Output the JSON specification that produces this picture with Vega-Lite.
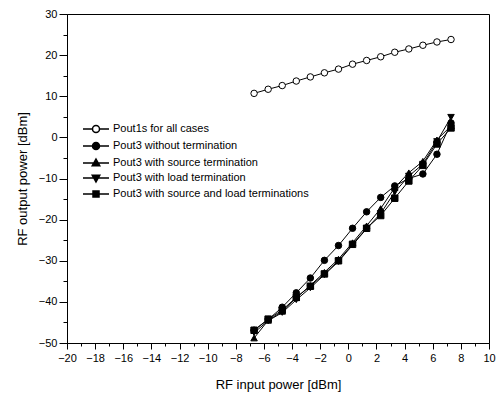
{
  "$schema": "https://vega.github.io/schema/vega-lite/v6.json",
  "width": 422,
  "height": 329,
  "autosize": "none",
  "padding": {"left": 67, "top": 14, "right": 12, "bottom": 57},
  "background": "white",
  "config": {
    "view": {"stroke": "black", "strokeWidth": 1},
    "font": "Liberation Sans",
    "axis": {"domainColor": "black", "tickColor": "black", "labelColor": "black", "titleColor": "black", "grid": false, "labelFont": "Liberation Sans", "titleFont": "Liberation Sans", "labelFontSize": 11, "titleFontSize": 13, "titleFontWeight": "normal"}
  },
  "data": {
    "values": [
      {"x": -6.7, "Pout1s for all cases": 10.7, "Pout3 without termination": -46.9, "Pout3 with source termination": -48.8, "Pout3 with load termination": -47.5, "Pout3 with source and load terminations": -46.9},
      {"x": -5.7, "Pout1s for all cases": 11.7, "Pout3 without termination": -44.3, "Pout3 with source termination": -44.5, "Pout3 with load termination": -44.6, "Pout3 with source and load terminations": -44.2},
      {"x": -4.7, "Pout1s for all cases": 12.6, "Pout3 without termination": -41.3, "Pout3 with source termination": -42.3, "Pout3 with load termination": -42.6, "Pout3 with source and load terminations": -42.0},
      {"x": -3.7, "Pout1s for all cases": 13.7, "Pout3 without termination": -37.8, "Pout3 with source termination": -39.0, "Pout3 with load termination": -39.5, "Pout3 with source and load terminations": -38.9},
      {"x": -2.7, "Pout1s for all cases": 14.7, "Pout3 without termination": -34.2, "Pout3 with source termination": -36.0, "Pout3 with load termination": -36.6, "Pout3 with source and load terminations": -36.2},
      {"x": -1.7, "Pout1s for all cases": 15.7, "Pout3 without termination": -29.9, "Pout3 with source termination": -32.8, "Pout3 with load termination": -33.4, "Pout3 with source and load terminations": -33.2},
      {"x": -0.7, "Pout1s for all cases": 16.6, "Pout3 without termination": -26.3, "Pout3 with source termination": -29.6, "Pout3 with load termination": -30.2, "Pout3 with source and load terminations": -30.0},
      {"x": 0.3, "Pout1s for all cases": 17.8, "Pout3 without termination": -22.1, "Pout3 with source termination": -25.6, "Pout3 with load termination": -26.2, "Pout3 with source and load terminations": -26.0},
      {"x": 1.3, "Pout1s for all cases": 18.7, "Pout3 without termination": -18.1, "Pout3 with source termination": -21.5, "Pout3 with load termination": -22.2, "Pout3 with source and load terminations": -22.1},
      {"x": 2.3, "Pout1s for all cases": 19.6, "Pout3 without termination": -14.6, "Pout3 with source termination": -17.3, "Pout3 with load termination": -18.5, "Pout3 with source and load terminations": -19.0},
      {"x": 3.3, "Pout1s for all cases": 20.7, "Pout3 without termination": -11.8, "Pout3 with source termination": -12.2, "Pout3 with load termination": -13.3, "Pout3 with source and load terminations": -14.8},
      {"x": 4.3, "Pout1s for all cases": 21.5, "Pout3 without termination": -10.0, "Pout3 with source termination": -8.6, "Pout3 with load termination": -9.4, "Pout3 with source and load terminations": -10.6},
      {"x": 5.3, "Pout1s for all cases": 22.4, "Pout3 without termination": -8.9, "Pout3 with source termination": -5.8, "Pout3 with load termination": -6.5, "Pout3 with source and load terminations": -6.8},
      {"x": 6.3, "Pout1s for all cases": 23.2, "Pout3 without termination": -4.1, "Pout3 with source termination": -0.6, "Pout3 with load termination": -1.0, "Pout3 with source and load terminations": -1.6},
      {"x": 7.3, "Pout1s for all cases": 23.8, "Pout3 without termination": 3.5, "Pout3 with source termination": 2.8, "Pout3 with load termination": 4.9, "Pout3 with source and load terminations": 2.3}
    ]
  },
  "transform": [
    {"fold": ["Pout1s for all cases", "Pout3 without termination", "Pout3 with source termination", "Pout3 with load termination", "Pout3 with source and load terminations"], "as": ["series", "y"]}
  ],
  "encoding": {
    "x": {
      "field": "x", "type": "quantitative",
      "scale": {"domain": [-20, 10], "nice": false, "zero": false},
      "axis": {
        "title": "RF input power [dBm]",
        "values": [-20,-19,-18,-17,-16,-15,-14,-13,-12,-11,-10,-9,-8,-7,-6,-5,-4,-3,-2,-1,0,1,2,3,4,5,6,7,8,9,10],
        "labelExpr": "datum.value % 2 === 0 ? datum.label : ''",
        "tickSize": {"condition": {"test": "datum.value % 2 === 0", "value": 6}, "value": 3},
        "labelPadding": 3,
        "titlePadding": 15,
        "labelFlush": false
      }
    },
    "y": {
      "field": "y", "type": "quantitative",
      "scale": {"domain": [-50, 30], "nice": false, "zero": false},
      "axis": {
        "title": "RF output power [dBm]",
        "values": [-50,-45,-40,-35,-30,-25,-20,-15,-10,-5,0,5,10,15,20,25,30],
        "labelExpr": "datum.value % 10 === 0 ? datum.label : ''",
        "tickSize": {"condition": {"test": "datum.value % 10 === 0", "value": 8}, "value": 4},
        "labelPadding": 2,
        "titlePadding": 9,
        "labelFlush": false
      }
    }
  },
  "layer": [
    {
      "mark": {"type": "line", "color": "black", "strokeWidth": 1},
      "encoding": {"detail": {"field": "series"}}
    },
    {
      "mark": {"type": "point", "filled": true, "stroke": "black", "strokeWidth": 1, "opacity": 1, "size": 42},
      "encoding": {
        "shape": {
          "field": "series", "type": "nominal",
          "scale": {
            "domain": ["Pout1s for all cases", "Pout3 without termination", "Pout3 with source termination", "Pout3 with load termination", "Pout3 with source and load terminations"],
            "range": ["circle", "circle", "triangle-up", "triangle-down", "square"]
          },
          "legend": null
        },
        "fill": {
          "field": "series", "type": "nominal",
          "scale": {
            "domain": ["Pout1s for all cases", "Pout3 without termination", "Pout3 with source termination", "Pout3 with load termination", "Pout3 with source and load terminations"],
            "range": ["white", "black", "black", "black", "black"]
          },
          "legend": null
        }
      }
    },
    {
      "transform": [{"filter": "datum.x > 1000"}],
      "mark": {"type": "point", "filled": true, "stroke": "black", "strokeWidth": 1, "opacity": 1, "size": 100},
      "encoding": {
        "shape": {
          "field": "series", "type": "nominal",
          "scale": {
            "domain": ["Pout1s for all cases", "Pout3 without termination", "Pout3 with source termination", "Pout3 with load termination", "Pout3 with source and load terminations"],
            "range": [
              "M-2.6,0H-0.7M0.7,0H2.6M0.7,0A0.7,0.7,0,1,1,-0.7,0A0.7,0.7,0,1,1,0.7,0",
              "M-2.6,0H-0.7M0.7,0H2.6M0.7,0A0.7,0.7,0,1,1,-0.7,0A0.7,0.7,0,1,1,0.7,0",
              "M-2.6,0H2.6M0,-0.8L0.75,0.55L-0.75,0.55Z",
              "M-2.6,0H2.6M0,0.8L0.75,-0.55L-0.75,-0.55Z",
              "M-2.6,0H2.6M-0.6,-0.6H0.6V0.6H-0.6Z"
            ]
          },
          "legend": {
            "orient": "none", "legendX": 23, "legendY": 109,
            "title": null, "padding": 0,
            "symbolSize": 100,
            "labelFont": "Liberation Sans", "labelFontSize": 11, "labelColor": "black", "labelLimit": 400,
            "labelOffset": 11, "rowPadding": 3,
            "encode": {
              "symbols": {
                "size": {"value": 100},
                "stroke": {"value": "black"},
                "strokeWidth": {"value": 1},
                "opacity": {"value": 1}
              }
            }
          }
        },
        "fill": {
          "field": "series", "type": "nominal",
          "scale": {
            "domain": ["Pout1s for all cases", "Pout3 without termination", "Pout3 with source termination", "Pout3 with load termination", "Pout3 with source and load terminations"],
            "range": ["white", "black", "black", "black", "black"]
          },
          "legend": {
            "orient": "none", "legendX": 23, "legendY": 109,
            "title": null, "padding": 0,
            "symbolSize": 100,
            "labelFont": "Liberation Sans", "labelFontSize": 11, "labelColor": "black", "labelLimit": 400,
            "labelOffset": 11, "rowPadding": 3,
            "encode": {
              "symbols": {
                "size": {"value": 100},
                "stroke": {"value": "black"},
                "strokeWidth": {"value": 1},
                "opacity": {"value": 1}
              }
            }
          }
        }
      }
    }
  ],
  "resolve": {"scale": {"shape": "independent", "fill": "independent"}, "legend": {"shape": "independent", "fill": "independent"}}
}
